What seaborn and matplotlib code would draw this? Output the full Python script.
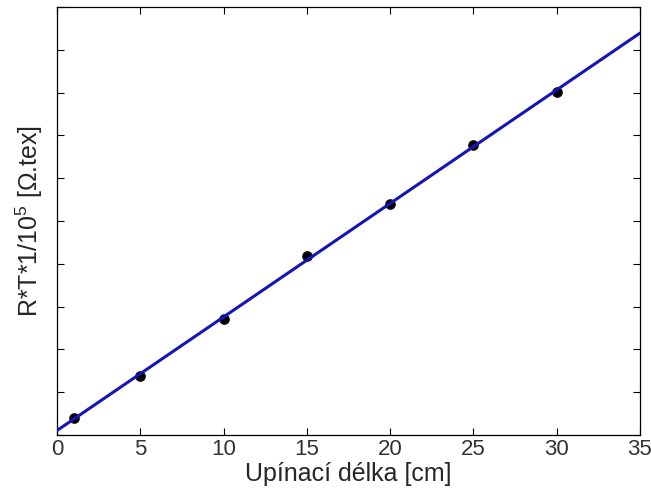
import numpy as np
import pandas as pd
import seaborn as sns
import matplotlib.pyplot as plt

delka = [1, 5, 10, 15, 20, 25, 30]
hodnoty = [0.40, 1.38, 2.71, 4.18, 5.40, 6.78, 8.01]
x_ticks = [0, 5, 10, 15, 20, 25, 30, 35]
y_ticks = [0, 1, 2, 3, 4, 5, 6, 7, 8, 9, 10]

df = pd.DataFrame({'delka': delka, 'hodnota': hodnoty})

sns.set_style('ticks')
plt.rcParams['font.family'] = ['Liberation Sans', 'DejaVu Sans']
plt.rcParams['mathtext.fontset'] = 'custom'
plt.rcParams['mathtext.rm'] = 'Liberation Sans'
plt.rcParams['mathtext.it'] = 'Liberation Sans'

fig = plt.figure(figsize=(6.51, 4.95), dpi=100)
ax = fig.add_axes([0.0876, 0.121, 0.8954, 0.865])
ax.set_xlim(0, 35)
ax.set_ylim(0, 10)

# data points first, fitted line on top
sns.scatterplot(data=df, x='delka', y='hodnota', ax=ax, color='black',
                marker='o', s=45, edgecolor='#111111', linewidth=1.0, zorder=2)
sns.regplot(data=df, x='delka', y='hodnota', ax=ax, ci=None, truncate=False,
            scatter=False, line_kws={'color': '#1414b8', 'linewidth': 2.2, 'zorder': 3})

ax.set_xlim(0, 35)
ax.set_ylim(0, 10)
ax.set_xticks(x_ticks)
ax.set_yticks(y_ticks)
ax.set_yticklabels([])
ax.tick_params(direction='in', length=5, width=0.8, top=True, right=True,
               labelsize=16, colors='black')
ax.tick_params(axis='x', labelcolor='#333333', pad=3)
for side in ['top', 'right', 'bottom', 'left']:
    ax.spines[side].set_visible(True)
    ax.spines[side].set_linewidth(0.9)
    ax.spines[side].set_color('black')

ax.set_xlabel('Upínací délka [cm]', fontsize=18, labelpad=1)
ax.set_ylabel(r'R*T*1/10$^5$ [Ω.tex]', fontsize=18, labelpad=5)

fig.savefig('out.png', dpi=100)
